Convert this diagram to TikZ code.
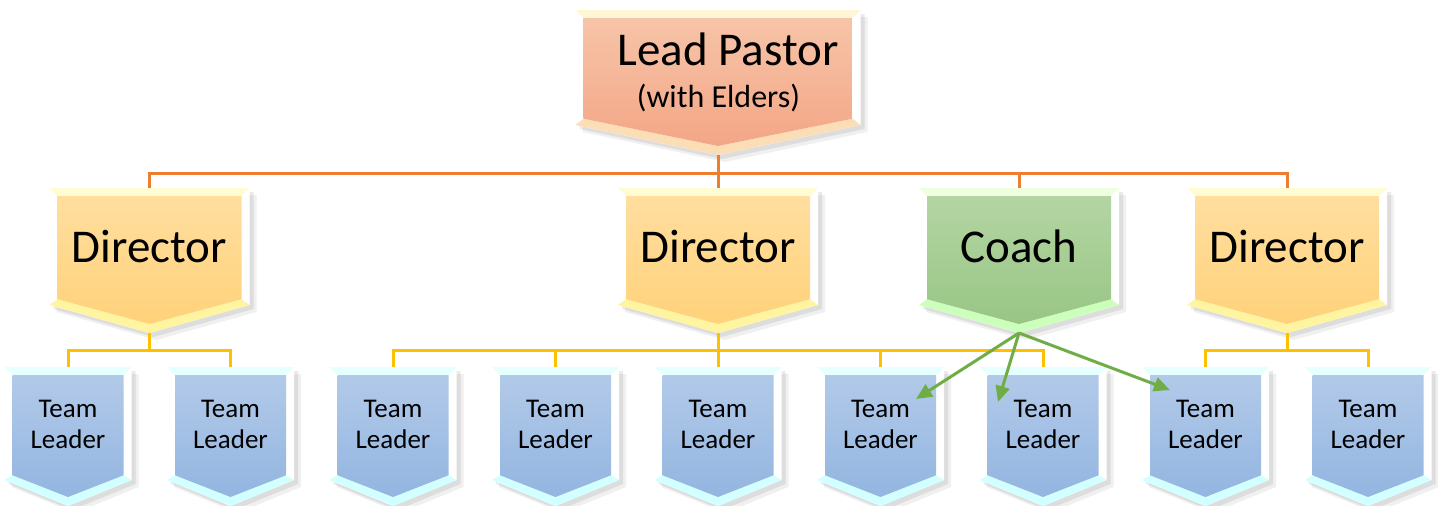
\documentclass[tikz,border=0pt]{standalone}
\usepackage{fontspec}
\setmainfont{Carlito}
\usetikzlibrary{arrows.meta}
\definecolor{lpTop}{HTML}{FFF6D5}\definecolor{lpBot}{HTML}{FBDDB6}
\definecolor{lpFa}{HTML}{F7C4A8}\definecolor{lpFb}{HTML}{F3A686}
\definecolor{drTop}{HTML}{FFFBD3}\definecolor{drBot}{HTML}{FFF4A0}
\definecolor{drFa}{HTML}{FFDE9F}\definecolor{drFb}{HTML}{FFD27A}
\definecolor{coTop}{HTML}{EEFFE0}\definecolor{coBot}{HTML}{CCFFBB}
\definecolor{coFa}{HTML}{B4D5A3}\definecolor{coFb}{HTML}{98C685}
\definecolor{tlTop}{HTML}{E6FFFF}\definecolor{tlBot}{HTML}{D2FFFF}
\definecolor{tlFa}{HTML}{B2CAE9}\definecolor{tlFb}{HTML}{93B5E0}
\definecolor{lineOrange}{HTML}{ED7D31}
\definecolor{lineYellow}{HTML}{FFC000}
\definecolor{lineGreen}{HTML}{70AD47}
% #1 name, #2 cx, #3 top, #4 half width, #5 side height, #6 tip depth, #7 colour prefix
\newcommand\chevshape[7]{%
  \pgfmathsetmacro\cL{#2-#4}\pgfmathsetmacro\cR{#2+#4}%
  \pgfmathsetmacro\cS{#3+#5}\pgfmathsetmacro\cT{#3+#5+#6}%
  \pgfmathsetmacro\iL{\cL+8}\pgfmathsetmacro\iR{\cR-8}\pgfmathsetmacro\iTop{#3+8}%
  \pgfmathsetmacro\iS{\cS-8+8*#6/#4}\pgfmathsetmacro\iT{\cT-9}%
  \fill[black,opacity=.06] (\cL+7,#3+7) -- (\cR+7,#3+7) -- (\cR+7,\cS+7) -- (#2+7,\cT+7) -- (\cL+7,\cS+7) -- cycle;
  \fill[black,opacity=.08] (\cL+4,#3+4) -- (\cR+4,#3+4) -- (\cR+4,\cS+4) -- (#2+4,\cT+4) -- (\cL+4,\cS+4) -- cycle;
  \fill[white] (\cL,#3) -- (\cR,#3) -- (\cR,\cS) -- (#2,\cT) -- (\cL,\cS) -- cycle;
  \fill[#7Top] (\cL,#3) -- (\cR,#3) -- (\iR,\iTop) -- (\iL,\iTop) -- cycle;
  \fill[#7Bot] (\cL,\cS) -- (#2,\cT) -- (\cR,\cS) -- (\iR,\iS) -- (#2,\iT) -- (\iL,\iS) -- cycle;
  \shade[top color=#7Fa, bottom color=#7Fb] (\iL,\iTop) -- (\iR,\iTop) -- (\iR,\iS) -- (#2,\iT) -- (\iL,\iS) -- cycle;
  \coordinate (#1-top) at (#2,#3);
  \coordinate (#1-tip) at (#2,\cT);
}
\begin{document}
\begin{tikzpicture}[x=1pt,y=-1pt,
  oline/.style={draw=lineOrange, line width=3pt},
  yline/.style={draw=lineYellow, line width=3pt},
  gline/.style={draw=lineGreen, line width=3pt, -{Triangle[length=16pt,width=14pt]}},
  bigtext/.style={font=\fontsize{47}{56}\selectfont, inner sep=0, anchor=base},
  subtext/.style={font=\fontsize{32}{38}\selectfont, inner sep=0, anchor=base},
  teamtext/.style={font=\fontsize{27}{31}\selectfont, align=center, inner sep=0}]
\useasboundingbox (0,0) rectangle (1438,506);
\fill[white] (0,0) rectangle (1438,506);
\chevshape{lp}{718}{10}{142.5}{115}{30}{lp}
\chevshape{d1}{149.5}{188}{100}{117}{28}{dr}
\chevshape{d2}{718}{188}{100}{117}{28}{dr}
\chevshape{co}{1019}{188}{100}{117}{28}{co}
\chevshape{d4}{1287}{188}{100}{117}{28}{dr}
\foreach \i/\x in {1/68,2/230.5,3/393,4/555.5,5/718,6/880.5,7/1043,8/1205.5,9/1368}{
  \chevshape{t\i}{\x}{367}{63.5}{113}{26}{tl}
  \node[teamtext] (tl\i) at (\x,424) {Team\\Leader};
}
\node[bigtext] (lp) at (728,65) {Lead Pastor};
\node[subtext] (lpsub) at (718.5,107) {(with Elders)};
\node[bigtext] (d1) at (149.5,262) {Director};
\node[bigtext] (d2) at (718,262) {Director};
\node[bigtext] (co) at (1019,262) {Coach};
\node[bigtext] (d4) at (1287,262) {Director};
% orange
\draw[oline] (lp-tip) -- (d2-top);
\draw[oline] (d1-top) -- ++(0,-15) -| (d4-top);
\draw[oline] (co-top) -- ++(0,-15);
% yellow
\draw[yline] (d1-tip) -- ++(0,17);
\draw[yline] (t1-top) -- ++(0,-17) -| (t2-top);
\draw[yline] (d2-tip) -- (t5-top);
\draw[yline] (t3-top) -- ++(0,-17) -| (t7-top);
\draw[yline] (t4-top) -- ++(0,-17);
\draw[yline] (t6-top) -- ++(0,-17);
\draw[yline] (d4-tip) -- ++(0,17);
\draw[yline] (t8-top) -- ++(0,-17) -| (t9-top);
% green arrows
\coordinate (g1) at (916,399);
\coordinate (g2) at (998,402);
\coordinate (g3) at (1170,390);
\draw[gline] (co-tip) -- (g1);
\draw[gline] (co-tip) -- (g2);
\draw[gline] (co-tip) -- (g3);
\end{tikzpicture}
\end{document}
